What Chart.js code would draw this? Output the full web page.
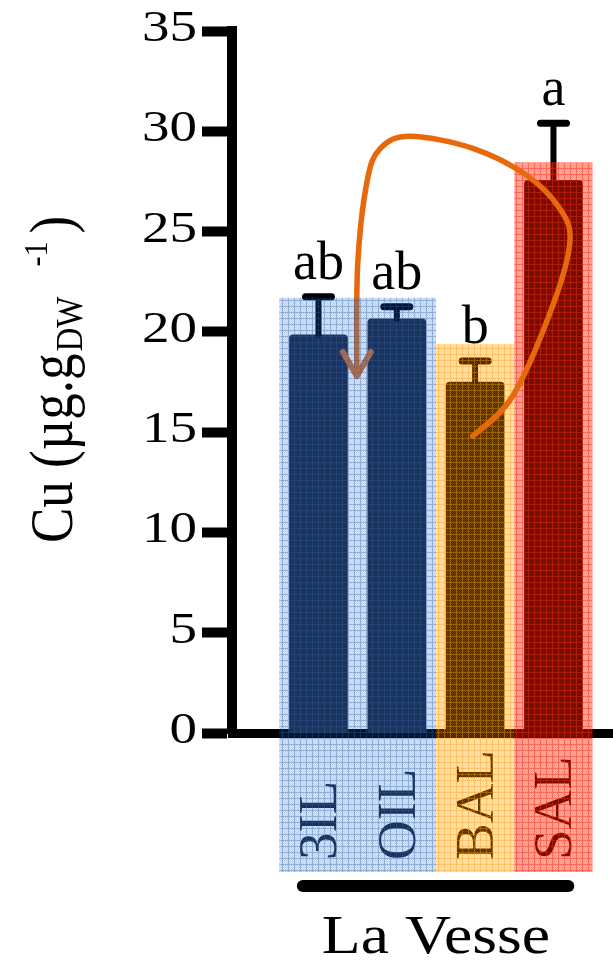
<!DOCTYPE html>
<html>
<head>
  <meta charset="utf-8">
  <title>Cu - La Vesse</title>
  <script src="https://cdn.jsdelivr.net/npm/chart.js"></script>
  <style>
    body { margin: 0; background: #fff; }
    #wrap { width: 613px; height: 962px; }
  </style>
</head>
<body>
  <div id="wrap"><canvas id="cuChart" width="613" height="962"></canvas></div>
  <script>
    // Cu content per sample group, mean + error (µg.g DW -1)
    const categories = ['3IL', 'OIL', 'BAL', 'SAL'];
    const cuMean = [19.85, 20.65, 17.5, 27.55];
    const cuErr = [1.9, 0.6, 1.05, 2.85];
    const sigLetters = ['ab', 'ab', 'b', 'a'];
    const yTickValues = [0, 5, 10, 15, 20, 25, 30, 35];
    const siteName = 'La Vesse';

    // dark bar fills, the tinted bands on top give them their hue
    const barColors = ['#202638', '#202638', '#0a1408', '#000000'];

    // tinted hatched bands over each group (x in category units, top in Cu units)
    const bands = [
      { from: -0.5, to: 1.5, top: 21.7, rgb: [35, 95, 180], alpha: [0.5, 0.3, 0.15] },
      { from: 1.5, to: 2.5, top: 19.4, rgb: [255, 150, 0], alpha: [0.6, 0.4, 0.2] },
      { from: 2.5, to: 3.5, top: 28.45, rgb: [250, 40, 15], alpha: [0.7, 0.5, 0.35] }
    ];

    // curved arrow from BAL over SAL back down to 3IL/OIL
    const arrowPath = [
      [1.97, 14.8], [2.48, 16.8], [2.99, 21.3], [3.21, 24.5], [3.08, 26.15],
      [2.66, 27.8], [1.97, 29.15], [1.17, 29.75], [0.79, 29.15], [0.62, 27.5],
      [0.50, 23.3], [0.49, 17.8]
    ];

    const SERIF = '"Liberation Serif", "Times New Roman", serif';

    function makeHatch(rgb, alpha) {
      const c = document.createElement('canvas');
      c.width = 6; c.height = 6;
      const g = c.getContext('2d');
      const img = g.createImageData(6, 6);
      for (let y = 0; y < 6; y++) {
        for (let x = 0; x < 6; x++) {
          const i = (y * 6 + x) * 4;
          let a;
          if (x === 0 || y === 0) a = alpha[0];
          else a = (x + y) % 2 === 0 ? alpha[1] : alpha[2];
          img.data[i] = rgb[0]; img.data[i + 1] = rgb[1]; img.data[i + 2] = rgb[2];
          img.data[i + 3] = Math.round(a * 255);
        }
      }
      g.putImageData(img, 0, 0);
      return c;
    }

    function stretchText(ctx, str, x, y, sx) {
      ctx.save();
      ctx.translate(x, y);
      ctx.scale(sx, 1);
      ctx.fillText(str, 0, 0);
      ctx.restore();
    }

    function drawBand(ctx, xs, ys, band, bottom) {
      const pat = ctx.createPattern(makeHatch(band.rgb, band.alpha), 'repeat');
      const x0 = xs.getPixelForValue(band.from);
      const x1 = xs.getPixelForValue(band.to);
      const top = ys.getPixelForValue(band.top);
      ctx.fillStyle = pat;
      ctx.fillRect(x0, top, x1 - x0, bottom - top);
    }

    function drawArrow(ctx, xs, ys) {
      const pts = arrowPath.map(p => [xs.getPixelForValue(p[0]), ys.getPixelForValue(p[1])]);
      ctx.save();
      ctx.strokeStyle = '#e8690c';
      ctx.lineWidth = 5.5;
      ctx.lineCap = 'round';
      ctx.lineJoin = 'round';
      ctx.beginPath();
      ctx.moveTo(pts[0][0], pts[0][1]);
      // catmull-rom through the points
      for (let i = 0; i < pts.length - 1; i++) {
        const p0 = pts[Math.max(i - 1, 0)];
        const p1 = pts[i];
        const p2 = pts[i + 1];
        const p3 = pts[Math.min(i + 2, pts.length - 1)];
        ctx.bezierCurveTo(
          p1[0] + (p2[0] - p0[0]) / 6, p1[1] + (p2[1] - p0[1]) / 6,
          p2[0] - (p3[0] - p1[0]) / 6, p2[1] - (p3[1] - p1[1]) / 6,
          p2[0], p2[1]
        );
      }
      ctx.stroke();
      // arrow head
      const tip = pts[pts.length - 1];
      ctx.lineWidth = 6;
      ctx.beginPath();
      ctx.moveTo(tip[0] - 14, tip[1] - 24);
      ctx.lineTo(tip[0], tip[1]);
      ctx.lineTo(tip[0] + 14, tip[1] - 24);
      ctx.stroke();
      ctx.restore();
    }

    const overlayPlugin = {
      id: 'cuOverlay',
      afterDatasetsDraw(chart) {
        const ctx = chart.ctx;
        const xs = chart.scales.x;
        const ys = chart.scales.y;
        const bandBottom = 872;

        // error bars (upper half only)
        ctx.save();
        ctx.strokeStyle = '#000';
        ctx.lineCap = 'round';
        cuMean.forEach((m, i) => {
          const x = xs.getPixelForValue(i);
          const yTop = ys.getPixelForValue(m + cuErr[i]);
          ctx.lineWidth = 6;
          ctx.beginPath();
          ctx.moveTo(x, ys.getPixelForValue(m));
          ctx.lineTo(x, yTop);
          ctx.stroke();
          ctx.lineWidth = 7;
          ctx.beginPath();
          ctx.moveTo(x - 13, yTop);
          ctx.lineTo(x + 13, yTop);
          ctx.stroke();
        });
        ctx.restore();

        // significance letters
        ctx.save();
        ctx.fillStyle = '#000';
        ctx.font = '54px ' + SERIF;
        ctx.textAlign = 'center';
        ctx.textBaseline = 'alphabetic';
        sigLetters.forEach((t, i) => {
          const x = xs.getPixelForValue(i);
          const y = ys.getPixelForValue(cuMean[i] + cuErr[i]) - 18;
          ctx.fillText(t, x, y);
        });
        ctx.restore();

        // rotated group labels under the axis
        ctx.save();
        ctx.font = '55px ' + SERIF;
        ctx.textAlign = 'left';
        ctx.textBaseline = 'alphabetic';
        categories.forEach((c, i) => {
          const x = xs.getPixelForValue(i);
          ctx.save();
          ctx.translate(x + 18, 860);
          ctx.rotate(-Math.PI / 2);
          ctx.fillStyle = barColors[i];
          ctx.fillText(c, 0, 0);
          ctx.restore();
        });
        ctx.restore();

        // orange + red bands, arrow, then the blue band over the arrow head
        drawBand(ctx, xs, ys, bands[1], bandBottom);
        drawBand(ctx, xs, ys, bands[2], bandBottom);
        drawArrow(ctx, xs, ys);
        drawBand(ctx, xs, ys, bands[0], bandBottom);

        // site bracket + name
        ctx.save();
        ctx.strokeStyle = '#000';
        ctx.lineWidth = 12;
        ctx.lineCap = 'round';
        ctx.beginPath();
        ctx.moveTo(xs.getPixelForValue(-0.2), 886);
        ctx.lineTo(xs.getPixelForValue(3.19), 886);
        ctx.stroke();
        ctx.fillStyle = '#000';
        ctx.font = '54px ' + SERIF;
        ctx.textAlign = 'center';
        ctx.textBaseline = 'alphabetic';
        stretchText(ctx, siteName, xs.getPixelForValue(1.5), 953, 1.18);
        ctx.restore();

        // y tick labels
        ctx.save();
        ctx.fillStyle = '#000';
        ctx.font = '44px ' + SERIF;
        ctx.textAlign = 'right';
        ctx.textBaseline = 'alphabetic';
        yTickValues.forEach(v => {
          stretchText(ctx, String(v), 197, ys.getPixelForValue(v) + 10, 1.25);
        });
        ctx.restore();

        // y axis title: Cu (µg.g DW -1)
        ctx.save();
        ctx.fillStyle = '#000';
        ctx.translate(72, 543);
        ctx.rotate(-Math.PI / 2);
        ctx.scale(1, 1.15);
        ctx.textAlign = 'left';
        ctx.textBaseline = 'alphabetic';
        ctx.font = '53px ' + SERIF;
        const main = 'Cu (\u00b5g.g';
        ctx.fillText(main, 0, 0);
        let u = ctx.measureText(main).width + 2;
        ctx.font = '33px ' + SERIF;
        ctx.fillText('DW', u, 9);
        u += ctx.measureText('DW').width + 30;
        ctx.font = '30px ' + SERIF;
        ctx.fillText('-1', u, -22);
        u += ctx.measureText('-1').width + 8;
        ctx.font = '53px ' + SERIF;
        ctx.fillText(')', u, 0);
        ctx.restore();
      }
    };

    const ctx = document.getElementById('cuChart').getContext('2d');
    new Chart(ctx, {
      type: 'bar',
      data: {
        datasets: [{
          label: 'Cu',
          data: cuMean.map((v, i) => ({ x: i, y: v })),
          backgroundColor: barColors,
          borderWidth: 0,
          borderRadius: 4,
          barThickness: 58
        }]
      },
      options: {
        responsive: false,
        animation: false,
        devicePixelRatio: 1,
        layout: { padding: { top: 31, bottom: 229, left: 0, right: 0 } },
        plugins: {
          legend: { display: false },
          tooltip: { enabled: false },
          title: { display: false }
        },
        scales: {
          x: {
            type: 'linear',
            min: -1.104,
            max: 3.76,
            offset: false,
            ticks: { display: false },
            grid: { display: false, drawTicks: false },
            border: { display: true, width: 9, color: '#000' },
            afterFit(s) { s.height = 0; }
          },
          y: {
            min: 0,
            max: 35,
            ticks: { display: false, stepSize: 5 },
            grid: {
              drawOnChartArea: false,
              drawTicks: true,
              tickLength: 30,
              tickWidth: 10,
              tickColor: '#000'
            },
            border: { display: true, width: 10, color: '#000' },
            afterFit(s) { s.width = 232; }
          }
        }
      },
      plugins: [overlayPlugin]
    });
  </script>
</body>
</html>
